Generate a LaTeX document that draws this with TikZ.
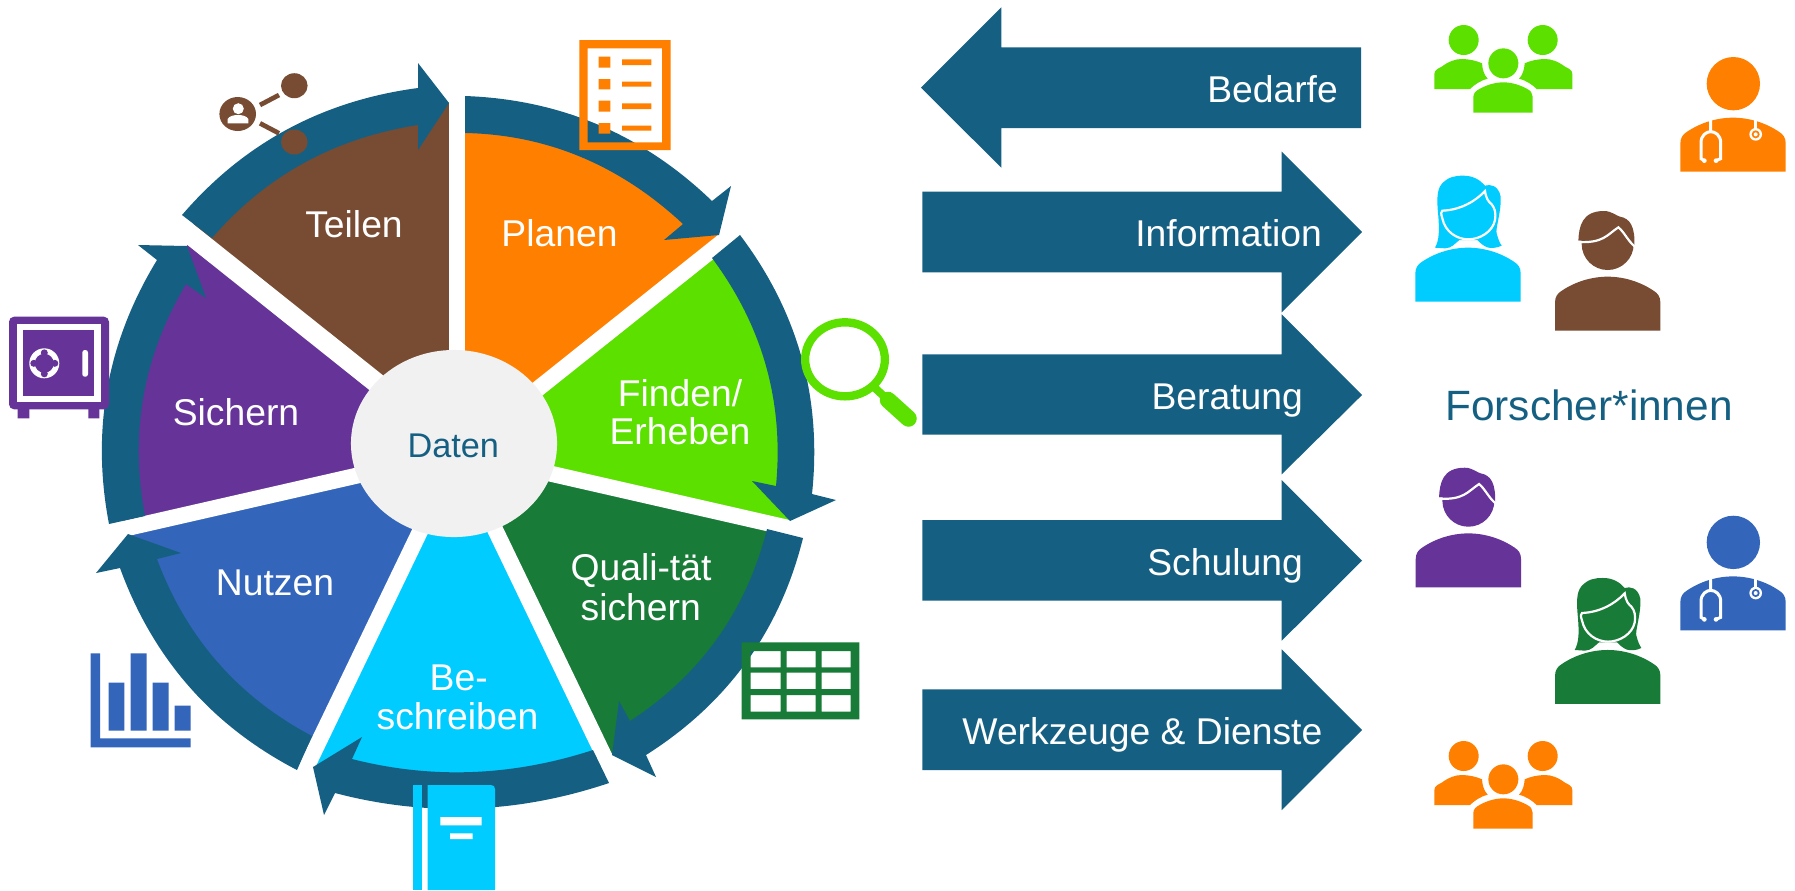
\documentclass[tikz,border=0pt]{standalone}
\usepackage{fontspec}
\usetikzlibrary{shapes.geometric}
\setmainfont{Liberation Sans}
\definecolor{cring}{HTML}{156082}
\definecolor{corange}{HTML}{FF8000}
\definecolor{cgreen}{HTML}{5BE000}
\definecolor{cdgreen}{HTML}{187B37}
\definecolor{ccyan}{HTML}{00CCFF}
\definecolor{cblue}{HTML}{3366BB}
\definecolor{cpurple}{HTML}{663399}
\definecolor{cbrown}{HTML}{784B33}
\definecolor{cgray}{HTML}{F1F1F1}
% curve through three points (start given for the calculation)
\def\thru(#1,#2)(#3,#4)(#5,#6){.. controls ({(4*#3-#5)/3},{(4*#4-#6)/3}) and ({(4*#3-#1)/3},{(4*#4-#2)/3}) .. (#5,#6)}
\newcommand\sector[4]{\fill[#1] (458,452.5) -- ++(#2:#4) arc[start angle=#2,end angle=#3,radius=#4] -- cycle;}
\newcommand\bodypath{(0,162) -- (0,77) .. controls (0,60) and (8,50) .. (19,43) .. controls (60,15) and (110,0) .. (158,0) .. controls (206,0) and (256,15) .. (297,43) .. controls (308,50) and (316,60) .. (316,77) -- (316,162) -- cycle}
\newcommand\doctor[3]{\begin{scope}[shift={(#1,#2)},scale=0.33333]
  \fill[#3] (1000,251) circle[radius=80];
  \fill[#3,shift={(841,353)}] \bodypath;
  \draw[white,line width=0.03cm] (932,360) -- (932,395)
     (913,482) -- (903,476) -- (903,428) .. controls (903,405) and (920,395) .. (932,395) .. controls (945,395) and (962,405) .. (962,428) -- (962,476) -- (948,482);
  \draw[white,line width=0.03cm] (1067,360) -- (1067,390);
  \fill[white] (913,482) circle[radius=7] (948,482) circle[radius=7] (1067,403) circle[radius=19];
  \fill[#3] (1067,403) circle[radius=12];
  \fill[white] (1067,403) circle[radius=6];
\end{scope}}
\newcommand\man[3]{\begin{scope}[shift={(#1,#2)},scale=0.33333]
  \fill[#3] (623,732) circle[radius=78];
  \fill[#3,shift={(465,830)}] \bodypath;
  \fill[#3] (535,722) .. controls (537,680) and (545,633) .. (612,633) .. controls (635,633) and (650,648) .. (660,650) .. controls (690,655) and (706,680) .. (703,740) -- (655,680) .. controls (620,705) and (610,725) .. (535,722) -- cycle;
  \draw[white,line width=0.022cm] (533,726) .. controls (610,730) and (620,705) .. (655,682) .. controls (672,695) and (685,725) .. (705,740);
\end{scope}}
\newcommand\woman[3]{\begin{scope}[shift={(#1,#2)},scale=0.33333]
  \fill[#3,shift={(46,743)}] \bodypath;
  \fill[#3] (105,743) .. controls (118,720) and (118,690) .. (115,650) .. controls (110,600) and (110,570) .. (125,552) .. controls (145,530) and (165,527) .. (190,527) .. controls (220,527) and (240,540) .. (255,557) .. controls (270,552) and (295,555) .. (302,590) .. controls (305,630) and (285,690) .. (290,700) .. controls (295,720) and (300,730) .. (305,737) .. controls (290,745) and (270,745) .. (262,742) .. controls (250,738) and (240,728) .. (232,720) -- (178,720) .. controls (165,730) and (155,745) .. (135,745) -- cycle;
  \filldraw[fill=#3,draw=white,line width=0.022cm] (127,632) .. controls (180,630) and (225,605) .. (255,573) .. controls (258,595) and (265,605) .. (275,613) .. controls (285,625) and (288,640) .. (285,660) .. controls (278,695) and (240,718) .. (205,718) .. controls (170,718) and (135,695) .. (127,655) .. controls (122,640) and (123,635) .. (127,632) -- cycle;
\end{scope}}
\newcommand\sidebody{(103,267) -- (103,222) .. controls (103,210) and (115,205) .. (125,200) .. controls (145,185) and (165,177) .. (185,177) .. controls (205,177) and (230,182) .. (246,190) .. controls (247,208) and (252,225) .. (263,236) .. controls (240,242) and (222,255) .. (210,267) -- cycle}
\newcommand\groupicon[3]{\begin{scope}[shift={(#1,#2)},scale=0.33333]
  \fill[#3] (191,120) circle[radius=45] (428,120) circle[radius=45] (310,190) circle[radius=45];
  \fill[#3] \sidebody;
  \fill[#3,shift={(620,0)},xscale=-1] \sidebody;
  \fill[#3] (220,338) -- (220,290) .. controls (220,280) and (228,272) .. (240,266) .. controls (260,255) and (285,247) .. (310,247) .. controls (335,247) and (360,255) .. (380,266) .. controls (392,272) and (398,280) .. (398,290) -- (398,338) -- cycle;
\end{scope}}
\tikzset{
  wheeltext/.style={inner sep=0pt,anchor=base,text=white,font=\fontsize{10.6}{12}\selectfont},
  bartext/.style={inner sep=0pt,anchor=base east,text=white,font=\fontsize{10.6}{12}\selectfont},
  gapline/.style={white,line width=0.16cm},
  ringfill/.style={fill=cring},
}
\begin{document}
\begin{tikzpicture}[x=0.01cm,y=0.01cm,yscale=-1]
\useasboundingbox (0,0) rectangle (1795,890);
\fill[white] (0,0) rectangle (1795,890);
% sectors
\sector{corange}{-90}{-38.57}{340}
\sector{cgreen}{-38.57}{12.86}{339}
\sector{cdgreen}{12.86}{64.29}{339}
\sector{ccyan}{64.29}{115.71}{346}
\sector{cblue}{115.71}{167.14}{340}
\sector{cpurple}{167.14}{218.57}{341}
\sector{cbrown}{218.57}{270}{350}
% gaps
\foreach \a in {-38.57,12.86,64.29,115.71,167.14}
  \draw[gapline] (458,452.5) -- ++(\a:375);
\draw[gapline] (457,452.5) -- ++(-90:375);
\draw[gapline,line width=0.2cm] (458,447.9) -- ++(218.57:375);
% ring arrows
\fill[ringfill] (465,96) \thru(465,96)(598.4,124.8)(712,201) -- (731,186) -- (719,235) -- (664,240) -- (683,224) \thru(683,224)(581,157)(465,133) -- cycle;
\fill[ringfill] (740,235) \thru(740,235)(801.6,357.5)(812,494) -- (836,500) -- (790,521) -- (752,481) -- (776,486) \thru(776,486)(766,366)(712,258) -- cycle;
\fill[ringfill] (803,538) \thru(803,538)(746.4,662)(646,755) -- (656,777) -- (612,755) -- (619,701) -- (630,721) \thru(630,721)(717.2,638.5)(767,529) -- cycle;
\fill[ringfill] (609,783) \thru(609,783)(472,808.5)(335,793) -- (324,815) -- (313,767) -- (362,737) -- (352,759) \thru(352,759)(472,772)(593,750) -- cycle;
\fill[ringfill] (297,770) \thru(297,770)(189,686.4)(120,568) -- (96,573) -- (128,534) -- (181,553) -- (157,559) \thru(157,559)(217.8,662.4)(312,736) -- cycle;
\fill[ringfill] (109,524) \thru(109,524)(107.5,387.5)(157,260) -- (138,245) -- (187,246) -- (206,298) -- (186,284) \thru(186,284)(143.5,396.2)(145,516) -- cycle;
\fill[ringfill] (182,215) \thru(182,215)(287.5,129.2)(418,88) -- (418,63) -- (449,103) -- (418,150) -- (418,125) \thru(418,125)(304,162.9)(212,238) -- cycle;
% centre
\node[ellipse,fill=cgray,minimum width=2.06cm,minimum height=1.87cm,inner sep=0pt] (hub) at (454,443.5) {};
\node[inner sep=0pt,anchor=base,text=cring,font=\fontsize{9.75}{12}\selectfont] (daten) at (453.3,457.7) {Daten};
% wheel labels
\node[wheeltext] (teilen) at (354,237) {Teilen};
\node[wheeltext] (sichern) at (236,425.3) {Sichern};
\node[wheeltext] (planen) at (559.5,246.7) {Planen};
\node[wheeltext] (finden) at (680,406) {Finden/};
\node[wheeltext] (erheben) at (680,444.3) {Erheben};
\node[wheeltext] (nutzen) at (275,595) {Nutzen};
\node[wheeltext] (be) at (458.7,690.3) {Be-};
\node[wheeltext] (schreiben) at (457.5,729.3) {schreiben};
\node[wheeltext] (quali) at (641,580.3) {Quali-tät};
\node[wheeltext] (qsichern) at (640.7,620) {sichern};
% checklist icon
\fill[corange,even odd rule] (579.3,40) rectangle (670.7,150) (587.7,48.3) rectangle (662,142.3);
\fill[corange] (598.7,56.7) rectangle (610.3,67.7) (598.7,79) rectangle (610.3,89.3) (598.7,100.7) rectangle (610.3,111.7) (598.7,123) rectangle (610.3,133.7);
\fill[corange] (622,59.3) rectangle (651.3,65) (622,81.7) rectangle (651.3,86.7) (622,103.3) rectangle (651.3,109) (622,125.7) rectangle (651.3,130.7);
% magnifier icon
\fill[cgreen,even odd rule] (845,359.3) ellipse[x radius=44,y radius=41.2] (845,359.3) ellipse[x radius=35.7,y radius=32.8];
\draw[cgreen,line width=0.08cm] (875,388) -- (888,400);
\draw[cgreen,line width=0.165cm,line cap=round] (888,400) -- (908.5,418.5);
% table icon
\fill[cdgreen,even odd rule] (741.7,642.3) rectangle (859.3,719.3)
  (750.7,651) rectangle (780.7,667.3) (786.7,651) rectangle (815.7,667.3) (821.7,651) rectangle (850.7,667.3)
  (750.7,672.7) rectangle (780.7,689) (786.7,672.7) rectangle (815.7,689) (821.7,672.7) rectangle (850.7,689)
  (750.7,695) rectangle (780.7,711.7) (786.7,695) rectangle (815.7,711.7) (821.7,695) rectangle (850.7,711.7);
% book icon
\fill[ccyan] (412.7,785) rectangle (421.7,890);
\fill[ccyan] (427.7,785) -- (491,785) .. controls (493.5,785) and (495,786.5) .. (495,789) -- (495,890) -- (427.7,890) -- cycle;
\fill[white] (440.3,817) rectangle (481.7,825.3) (450,833.3) rectangle (472.7,839);
% bar chart icon
\fill[cblue] (90.7,653.3) rectangle (100,747.3) (90.7,738.3) rectangle (190.7,747.3);
\fill[cblue] (108.7,682.7) rectangle (124.3,730.7) (130.7,653.3) rectangle (146.7,730.7) (152.7,682.7) rectangle (168.7,730.7) (174.7,705.7) rectangle (190.7,730.7);
% safe icon
\fill[cpurple] (17.7,405) rectangle (29.3,418.3) (88.3,405) rectangle (99.3,418.3);
\fill[cpurple,rounded corners=0.05cm] (9,316.7) rectangle (109,409.3);
\fill[white] (17.3,324.3) rectangle (101,401.7);
\fill[cpurple] (23.3,330) rectangle (94.3,396);
\fill[white] (44.3,363.3) circle[radius=15];
\fill[cpurple] (44.3,363.3) circle[radius=9.5];
\fill[cpurple] (44.3,352.8) circle[radius=3.5] (44.3,373.8) circle[radius=3.5] (33.8,363.3) circle[radius=3.5] (54.8,363.3) circle[radius=3.5];
\fill[white,rounded corners=0.025cm] (82.3,350) rectangle (88,376.7);
% share icon
\draw[cbrown,line width=0.047cm] (260,105) -- (279,95) (260,123.3) -- (279,133.3);
\fill[cbrown] (237.7,114) ellipse[x radius=18.3,y radius=17];
\fill[cbrown] (294.3,85.7) ellipse[x radius=13.3,y radius=12.5] (294.3,142) ellipse[x radius=13.3,y radius=12.5];
\fill[white] (238.3,108.7) circle[radius=5.5];
\fill[white] (227.7,123.3) -- (227.7,119) .. controls (229,116) and (234,115) .. (238,115) .. controls (242,115) and (247,116) .. (248.3,119) -- (248.3,123.3) -- cycle;
% block arrows
\fill[ringfill] (921,87.7) -- (1001.3,7.3) -- (1001.3,47.3) -- (1361,47.3) -- (1361,128) -- (1001.3,128) -- (1001.3,167.7) -- cycle;
\fill[ringfill] (922.3,191.7) -- (1281.7,191.7) -- (1281.7,151.7) -- (1362,232) -- (1281.7,312.3) -- (1281.7,272.3) -- (922.3,272.3) -- cycle;
\fill[ringfill] (922.3,354.3) -- (1281.7,354.3) -- (1281.7,314.3) -- (1362,395) -- (1281.7,474.3) -- (1281.7,434.7) -- (922.3,434.7) -- cycle;
\fill[ringfill] (922.3,520) -- (1281.7,520) -- (1281.7,480) -- (1362,560.7) -- (1281.7,640.7) -- (1281.7,600.7) -- (922.3,600.7) -- cycle;
\fill[ringfill] (922.3,689.3) -- (1281.7,689.3) -- (1281.7,649.3) -- (1362,730) -- (1281.7,810) -- (1281.7,770) -- (922.3,770) -- cycle;
\node[bartext] (bedarfe) at (1338.5,102) {Bedarfe};
\node[bartext] (information) at (1322.5,246.7) {Information};
\node[bartext] (beratung) at (1303.5,409.3) {Beratung};
\node[bartext] (schulung) at (1303.5,575.3) {Schulung};
\node[bartext] (werkzeuge) at (1323,744.3) {Werkzeuge \& Dienste};
\node[inner sep=0pt,anchor=base,text=cring,font=\fontsize{12.05}{14}\selectfont] (forscher) at (1589,420.5) {Forscher*innen};
% people
\groupicon{1400}{0}{cgreen}
\doctor{1400}{0}{corange}
\woman{1400}{0}{ccyan}
\man{1400}{0}{cbrown}
\man{1260.7}{256.7}{cpurple}
\doctor{1400}{458.7}{cblue}
\woman{1539.7}{402.3}{cdgreen}
\groupicon{1400}{716}{corange}
\end{tikzpicture}
\end{document}
